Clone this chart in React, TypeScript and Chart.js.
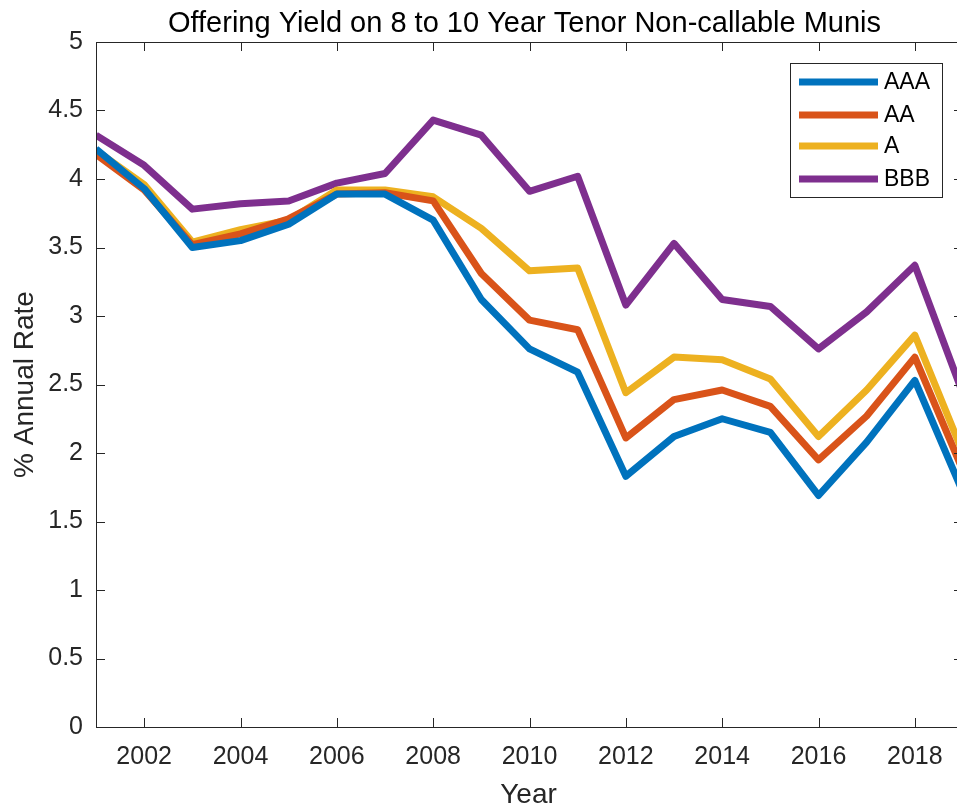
import React, { useEffect, useRef } from "react";
import { Chart, registerables } from "chart.js";

Chart.register(...registerables);

const YEARS = [2001, 2002, 2003, 2004, 2005, 2006, 2007, 2008, 2009, 2010, 2011, 2012, 2013, 2014, 2015, 2016, 2017, 2018, 2019];
const AAA = [4.22, 3.93, 3.50, 3.55, 3.67, 3.89, 3.89, 3.70, 3.12, 2.76, 2.59, 1.83, 2.12, 2.25, 2.15, 1.69, 2.08, 2.53, 1.71];
const AA = [4.18, 3.92, 3.52, 3.60, 3.71, 3.89, 3.90, 3.84, 3.31, 2.97, 2.90, 2.11, 2.39, 2.46, 2.34, 1.95, 2.27, 2.70, 1.87];
const A = [4.21, 3.96, 3.54, 3.63, 3.70, 3.92, 3.92, 3.87, 3.64, 3.33, 3.35, 2.44, 2.70, 2.68, 2.54, 2.12, 2.46, 2.86, 2.00];
const BBB = [4.32, 4.10, 3.78, 3.82, 3.84, 3.97, 4.04, 4.43, 4.32, 3.91, 4.02, 3.08, 3.53, 3.12, 3.07, 2.76, 3.03, 3.37, 2.43];

const SERIES_LABELS = ["AAA", "AA", "A", "BBB"];
const SERIES_COLORS = ["#0072BD", "#D95319", "#EDB120", "#7E2F8E"];
const X_TICKS = [2002, 2004, 2006, 2008, 2010, 2012, 2014, 2016, 2018];
const Y_TICKS = [0, 0.5, 1, 1.5, 2, 2.5, 3, 3.5, 4, 4.5, 5];

const TITLE = "Offering Yield on 8 to 10 Year Tenor Non-callable Munis";
const X_TITLE = "Year";
const Y_TITLE = "% Annual Rate";

const FONT = "'Liberation Sans', Arial, Helvetica, sans-serif";
const AXIS_COLOR = "#262626";

const matlabPlugin = {
  id: "matlabDecor",
  afterDatasetsDraw(chart: any) {
    const { ctx, chartArea } = chart;
    const { left, right, top, bottom } = chartArea;
    const xs = chart.scales.x;
    const ys = chart.scales.y;
    const tl = 9;
    ctx.save();
    // box
    ctx.strokeStyle = AXIS_COLOR;
    ctx.lineWidth = 1;
    ctx.beginPath();
    ctx.rect(Math.round(left) + 0.5, Math.round(top) + 0.5, Math.round(right - left), Math.round(bottom - top));
    ctx.stroke();
    // ticks
    ctx.beginPath();
    X_TICKS.forEach((v) => {
      const px = Math.round(xs.getPixelForValue(v)) + 0.5;
      ctx.moveTo(px, bottom);
      ctx.lineTo(px, bottom - tl);
      ctx.moveTo(px, top);
      ctx.lineTo(px, top + tl);
    });
    Y_TICKS.forEach((v) => {
      const py = Math.round(ys.getPixelForValue(v)) + 0.5;
      ctx.moveTo(left, py);
      ctx.lineTo(left + tl, py);
      ctx.moveTo(right, py);
      ctx.lineTo(right - tl, py);
    });
    ctx.stroke();

    // legend
    const lx = 790, ly = 63, lw = 152, lh = 134;
    ctx.fillStyle = "#ffffff";
    ctx.fillRect(lx, ly, lw, lh);
    ctx.strokeStyle = AXIS_COLOR;
    ctx.lineWidth = 1;
    ctx.strokeRect(lx + 0.5, ly + 0.5, lw, lh);
    const rows = [82, 115, 146, 179];
    ctx.font = `23px ${FONT}`;
    ctx.textBaseline = "middle";
    ctx.textAlign = "left";
    chart.data.datasets.forEach((ds: any, i: number) => {
      const y = rows[i];
      ctx.strokeStyle = ds.borderColor;
      ctx.lineWidth = 7;
      ctx.beginPath();
      ctx.moveTo(799, y);
      ctx.lineTo(878, y);
      ctx.stroke();
      ctx.fillStyle = "#000000";
      ctx.fillText(ds.label, 884, y + 1);
    });

    // titles
    ctx.fillStyle = "#000000";
    ctx.font = `29px ${FONT}`;
    ctx.textAlign = "center";
    ctx.textBaseline = "alphabetic";
    ctx.fillText(TITLE, (left + right) / 2 - 5, 32);
    ctx.font = `28px ${FONT}`;
    ctx.fillStyle = AXIS_COLOR;
    ctx.fillText(X_TITLE, (left + right) / 2 - 1, 803);
    ctx.translate(33, (top + bottom) / 2);
    ctx.rotate(-Math.PI / 2);
    ctx.fillText(Y_TITLE, 0, 0);
    ctx.restore();
  },
};

export default function App() {
  const ref = useRef<HTMLCanvasElement | null>(null);
  useEffect(() => {
    if (!ref.current) return;
    const data = [AAA, AA, A, BBB];
    const chart = new Chart(ref.current, {
      type: "line",
      data: {
        datasets: data.map((vals, i) => ({
          label: SERIES_LABELS[i],
          data: YEARS.map((y, j) => ({ x: y, y: vals[j] })),
          borderColor: SERIES_COLORS[i],
          backgroundColor: SERIES_COLORS[i],
          borderWidth: 7,
          pointRadius: 0,
          tension: 0,
          borderJoinStyle: "round" as const,
          borderCapStyle: "butt" as const,
        })),
      },
      options: {
        animation: false,
        responsive: false,
        maintainAspectRatio: false,
        layout: { padding: { left: 0, right: 7, top: 42, bottom: 0 } },
        plugins: {
          legend: { display: false },
          title: { display: false },
          tooltip: { enabled: false },
        },
        scales: {
          x: {
            type: "linear",
            min: 2001,
            max: 2019,
            grid: { display: false, drawTicks: false },
            border: { display: false },
            afterBuildTicks: (scale: any) => {
              scale.ticks = X_TICKS.map((v) => ({ value: v }));
            },
            afterFit: (scale: any) => {
              scale.height = 83;
            },
            ticks: {
              color: AXIS_COLOR,
              font: { family: FONT, size: 25 },
              padding: 15,
              maxRotation: 0,
              autoSkip: false,
              callback: (v: any) => String(v),
            },
          },
          y: {
            type: "linear",
            min: 0,
            max: 5,
            grid: { display: false, drawTicks: false },
            border: { display: false },
            afterBuildTicks: (scale: any) => {
              scale.ticks = Y_TICKS.map((v) => ({ value: v }));
            },
            afterFit: (scale: any) => {
              scale.width = 96;
            },
            ticks: {
              color: AXIS_COLOR,
              font: { family: FONT, size: 25 },
              padding: 13,
              autoSkip: false,
              callback: (v: any) => String(v),
            },
          },
        },
      },
      plugins: [matlabPlugin],
    });
    return () => chart.destroy();
  }, []);

  return (
    <div style={{ position: "fixed", left: 0, top: 0, width: 957, height: 810, overflow: "hidden", background: "#fff" }}>
      <canvas ref={ref} width={970} height={810} style={{ width: 970, height: 810, display: "block" }} />
    </div>
  );
}
